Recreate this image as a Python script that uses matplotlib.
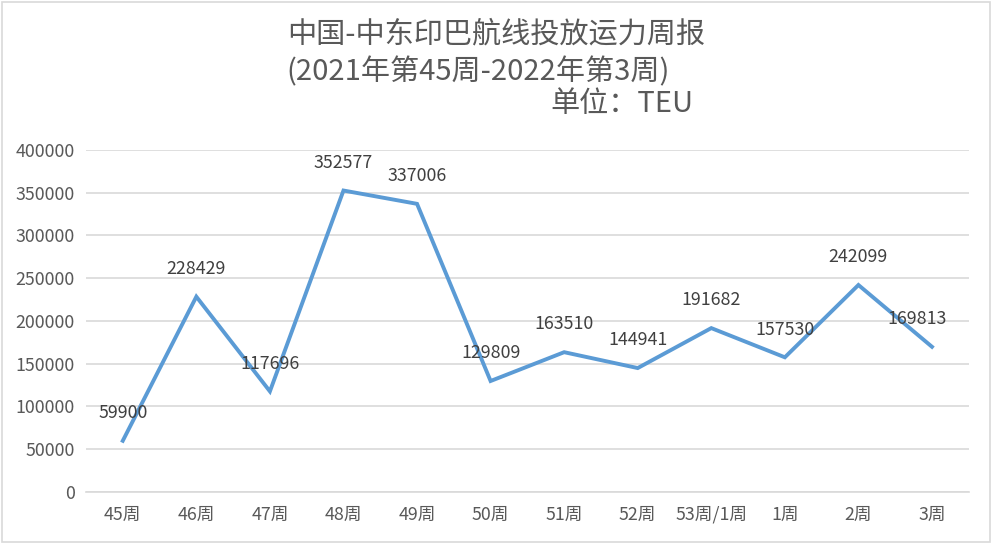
import matplotlib.pyplot as plt
from matplotlib.patches import Rectangle

plt.rcParams['font.family'] = ['Noto Sans CJK SC', 'DejaVu Sans']

# 数据
weeks = ["45周", "46周", "47周", "48周", "49周", "50周", "51周", "52周", "53周/1周", "1周", "2周", "3周"]
capacity = [59900, 228429, 117696, 352577, 337006, 129809, 163510, 144941, 191682, 157530, 242099, 169813]
yticks = [0, 50000, 100000, 150000, 200000, 250000, 300000, 350000, 400000]

fig = plt.figure(figsize=(9.93, 5.44), dpi=100)
ax = fig.add_axes([0.0866, 0.0956, 0.889, 0.6287])

x = list(range(len(weeks)))
ax.plot(x, capacity, color="#5B9BD5", linewidth=2.8, solid_joinstyle="miter")

for i, v in enumerate(capacity):
    dx = -11 if i == len(capacity) - 1 else 0
    ax.annotate(str(v), (i, v), xytext=(dx, 20), textcoords="offset points",
                ha="center", va="center", fontsize=12.8, color="#404040")

ax.set_xlim(-0.5, len(weeks) - 0.5)
ax.set_ylim(0, 400000)
ax.set_yticks(yticks)
ax.set_yticklabels([str(t) for t in yticks])
ax.set_xticks(x)
ax.set_xticklabels(weeks)
ax.grid(axis="y", color="#D9D9D9", linewidth=1.2)
ax.set_axisbelow(True)
for s in ["top", "right", "left"]:
    ax.spines[s].set_visible(False)
ax.spines["bottom"].set_color("#D9D9D9")
ax.spines["bottom"].set_linewidth(1.2)
ax.tick_params(axis="both", length=0, colors="#595959", labelsize=12.8)
ax.tick_params(axis="y", pad=8)
ax.tick_params(axis="x", pad=10)

# 标题
fig.text(0.500, 0.936, "中国-中东印巴航线投放运力周报", ha="center", va="center",
         fontsize=21, fontweight="medium", color="#595959")
fig.text(0.481, 0.868, "(2021年第45周-2022年第3周)", ha="center", va="center",
         fontsize=21, fontweight="medium", color="#595959")
fig.text(0.554, 0.809, "单位：TEU", ha="left", va="center",
         fontsize=21, fontweight="medium", color="#595959")

# 外框
fig.patches.append(Rectangle((0.002, 0.003), 0.995, 0.993, transform=fig.transFigure,
                             fill=False, edgecolor="#D9D9D9", linewidth=1.2))

fig.savefig("out.png", dpi=100)
